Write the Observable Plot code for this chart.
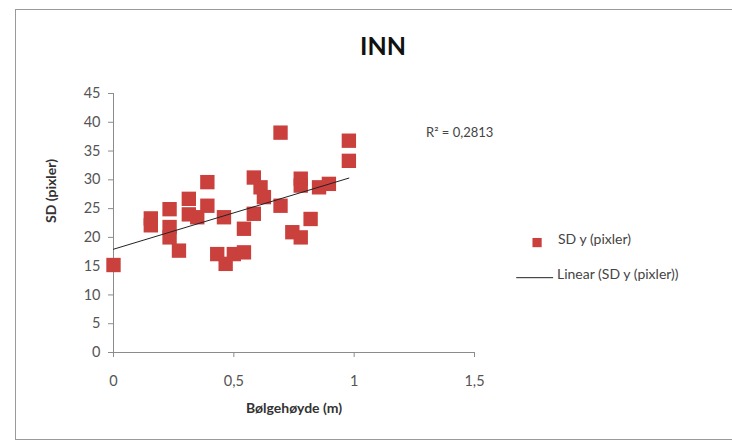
<!DOCTYPE html>
<html>
<head>
<meta charset="utf-8">
<script src="https://cdn.jsdelivr.net/npm/d3@7"></script>
<script src="https://cdn.jsdelivr.net/npm/@observablehq/plot@0.6"></script>
<style>
  html, body { margin: 0; padding: 0; background: #fff; overflow: hidden; }
  #wrap { position: relative; width: 732px; height: 442px; overflow: hidden; font-family: Lato, "Open Sans", sans-serif; }
  #frame { position: absolute; left: 15px; top: 9px; width: 900px; height: 431px; border: 1.5px solid #9a9a9a; box-sizing: border-box; }
  #wrap svg { position: absolute; left: 0; top: 0; }
  .lbl { position: absolute; color: #444; white-space: nowrap; }
</style>
</head>
<body>
<div id="wrap">
  <div id="frame"></div>
  <div id="chart"></div>
  <div class="lbl" style="left:283px;width:200px;top:30px;text-align:center;font-size:25px;font-weight:bold;color:#111;">INN</div>
  <div class="lbl" style="left:426px;top:124px;font-size:13px;">R² = 0,2813</div>
  <div class="lbl" style="left:558px;top:230px;font-size:14px;">SD y (pixler)</div>
  <div class="lbl" style="left:557px;top:265px;font-size:14px;">Linear (SD y (pixler))</div>
</div>
<script>
const xs = [0, 0.155, 0.155, 0.233, 0.233, 0.233, 0.272, 0.313, 0.313, 0.348, 0.39, 0.39, 0.459, 0.431, 0.466, 0.5, 0.542, 0.542, 0.583, 0.583, 0.611, 0.625, 0.694, 0.694, 0.743, 0.778, 0.778, 0.778, 0.819, 0.854, 0.895, 0.978, 0.978];
const ys = [15.2, 23.3, 22.1, 24.9, 21.8, 20.0, 17.7, 26.7, 24.0, 23.5, 29.6, 25.5, 23.5, 17.1, 15.4, 17.1, 17.4, 21.5, 24.1, 30.4, 28.7, 27.0, 38.2, 25.5, 20.9, 20.0, 30.2, 29.0, 23.2, 28.7, 29.3, 36.8, 33.3];
const xTicks = [0, 0.5, 1, 1.5];
const yTicks = [0, 5, 10, 15, 20, 25, 30, 35, 40, 45];
const seriesName = "SD y (pixler)";

const data = xs.map((x, i) => ({x, y: ys[i]}));
const fmt = d => String(d).replace(".", ",");
const red = "#c9403d";

const plot = Plot.plot({
  width: 732,
  height: 442,
  marginLeft: 113,
  marginRight: 258,
  marginTop: 93,
  marginBottom: 90,
  style: {fontFamily: "Lato, 'Open Sans', sans-serif", fontSize: "14px", color: "#555", background: "transparent"},
  x: {domain: [0, 1.5], ticks: xTicks},
  y: {domain: [0, 45], ticks: yTicks},
  marks: [
    Plot.ruleX([0], {stroke: "#8c8c8c"}),
    Plot.ruleY([0], {stroke: "#8c8c8c"}),
    Plot.axisY(yTicks, {tickSize: 5, tickPadding: 8, stroke: "#8c8c8c", fill: "#555", fontSize: 14.5, label: null, tickFormat: fmt}),
    Plot.axisX(xTicks, {tickSize: 5, tickPadding: 18, stroke: "#8c8c8c", fill: "#555", fontSize: 14.5, label: null, tickFormat: fmt}),
    Plot.text(["SD (pixler)"], {frameAnchor: "left", dx: -62, rotate: -90, fontWeight: "bold", fontSize: 14, fill: "#333"}),
    Plot.text(["Bølgehøyde (m)"], {frameAnchor: "bottom", dy: 60, fontWeight: "bold", fontSize: 14, fill: "#333"}),
    Plot.dot(data, {x: "x", y: "y", symbol: "square", r: 8.1, fill: red, stroke: "none"}),
    Plot.linearRegressionY(data, {x: "x", y: "y", stroke: "#222", strokeWidth: 1, ci: 0}),
    Plot.dot([seriesName], {x: () => 1.76, y: () => 19.1, symbol: "square", r: 5.2, fill: red, stroke: "none"}),
    Plot.lineY([{x: 1.675, y: 13}, {x: 1.825, y: 13}], {x: "x", y: "y", stroke: "#222", strokeWidth: 1, clip: false})
  ]
});
document.getElementById("chart").appendChild(plot);
</script>
</body>
</html>
